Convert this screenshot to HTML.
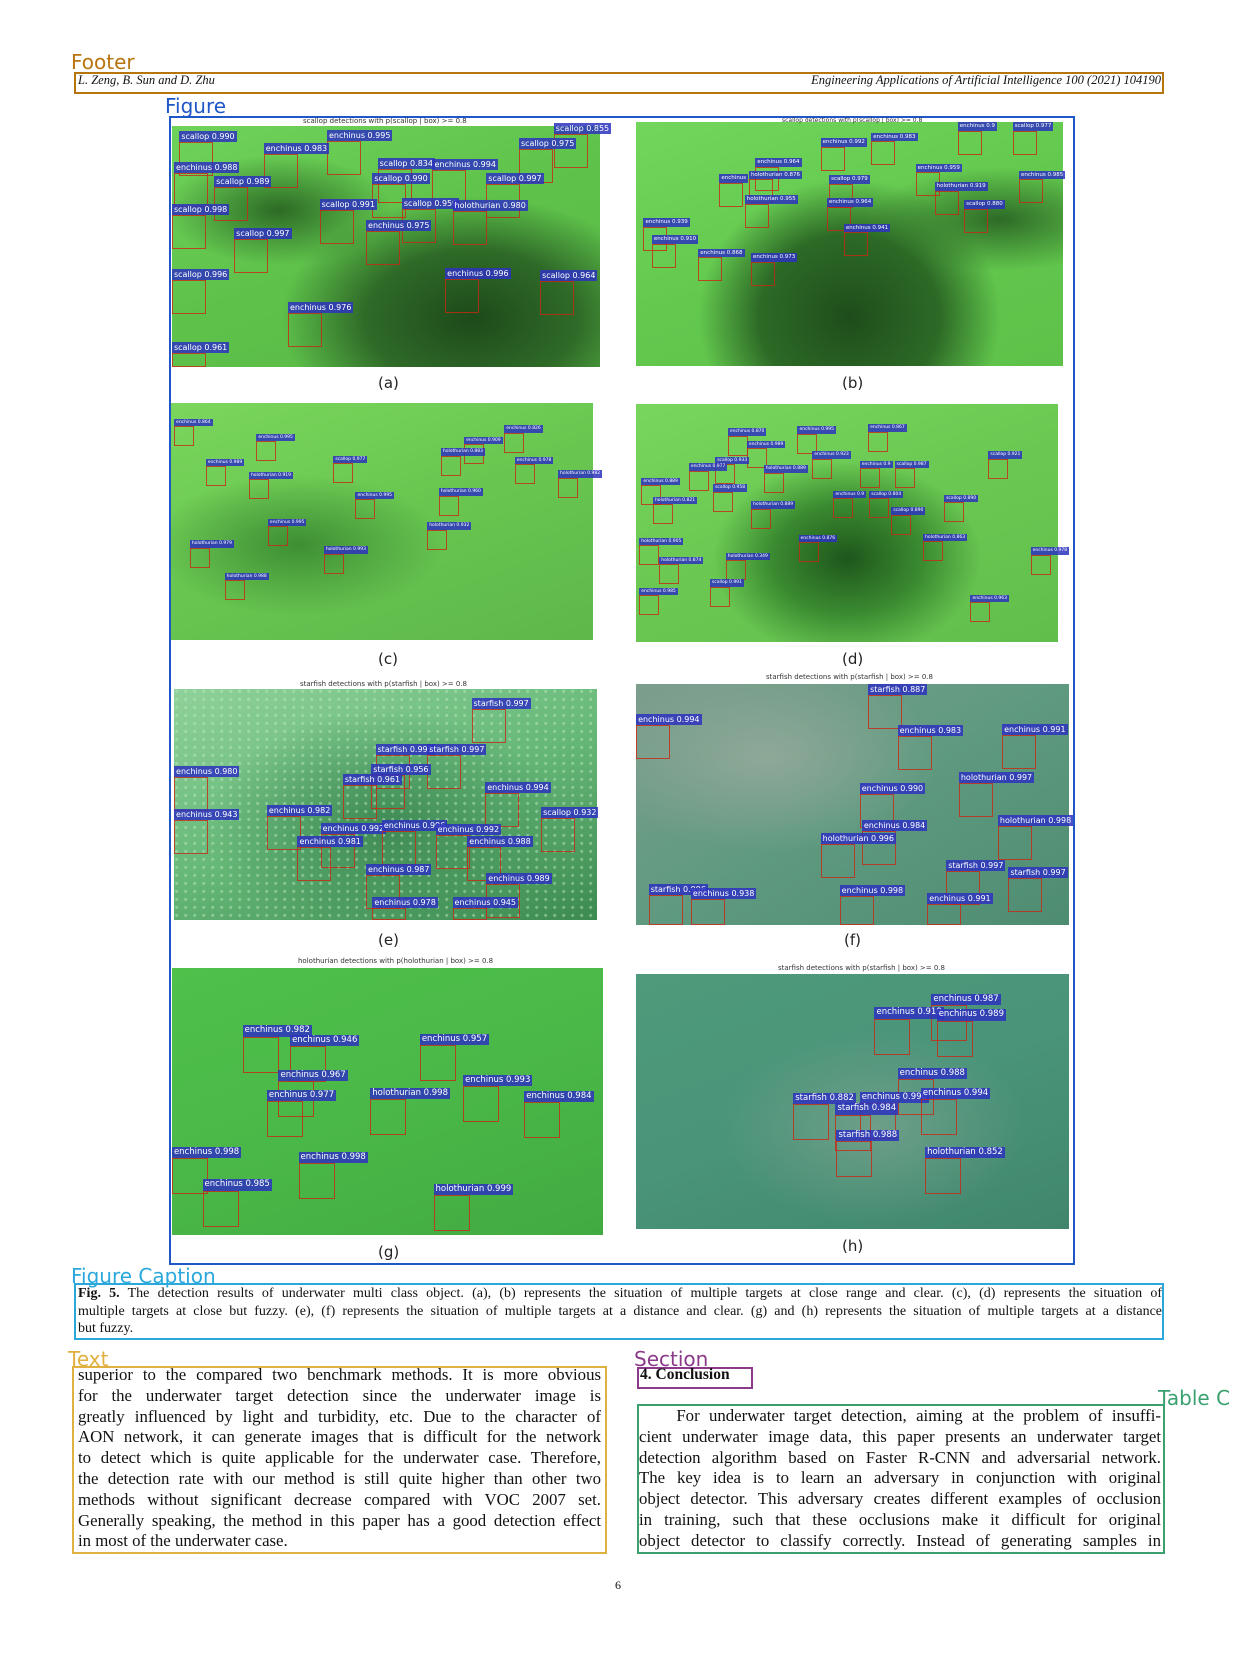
<!DOCTYPE html>
<html><head><meta charset="utf-8"><style>
body{margin:0;background:#fff;}
#page{position:relative;width:1241px;height:1654px;overflow:hidden;background:#fff;font-family:"Liberation Serif",serif;color:#111;}
.abs{position:absolute;}
.tag{position:absolute;font-family:"DejaVu Sans","Liberation Sans",sans-serif;font-size:20px;line-height:20px;}
.panel{position:absolute;overflow:hidden;}
.ptitle{position:absolute;font-family:"DejaVu Sans",sans-serif;font-size:7px;color:#333;white-space:nowrap;}
.plabel{position:absolute;font-family:"DejaVu Sans",sans-serif;font-size:15px;color:#222;}
.det{position:absolute;background:rgba(45,50,190,0.85);color:#fff;font-family:"DejaVu Sans",sans-serif;font-size:8px;line-height:11px;padding:0 2px;white-space:nowrap;}
.rbox{position:absolute;border:1px solid rgba(200,40,20,0.8);}
.txt{font-size:16.8px;line-height:20.8px;}
.txt div,.cap div{text-align:justify;text-align-last:justify;white-space:nowrap;}
.txt div.last,.cap div.last{text-align-last:left;}
.cap{font-size:14px;line-height:17.6px;}
</style></head><body>
<div id="page">

<div class="tag" style="left:71px;top:52px;color:#b8740e">Footer</div>
<div class="abs" style="left:74px;top:72px;width:1086px;height:18px;border:2px solid #b8740e"></div>
<div class="abs" style="left:78px;top:73px;font-size:12.5px;font-style:italic">L. Zeng, B. Sun and D. Zhu</div>
<div class="abs" style="right:80px;top:73px;font-size:12.5px;font-style:italic">Engineering Applications of Artificial Intelligence 100 (2021) 104190</div>

<div class="tag" style="left:165px;top:96px;color:#1f56c8">Figure</div>
<div class="abs" style="left:169px;top:116px;width:902px;height:1145px;border:2px solid #1f56c8"></div>

<div class="panel" style="left:172px;top:126px;width:428px;height:241px;background:radial-gradient(ellipse at 70% 80%,#1d4a1a 0%,#2f6a28 25%,transparent 45%),radial-gradient(ellipse at 25% 35%,#2c6a25 0%,transparent 25%),linear-gradient(160deg,#6fd25a,#5ec24a 50%,#58b846)"></div>
<div class="panel" style="left:636px;top:122px;width:427px;height:244px;background:radial-gradient(ellipse at 50% 80%,#1e4d1b 0%,#2d6a26 30%,transparent 50%),radial-gradient(ellipse at 85% 40%,#2d6a26 0%,transparent 25%),linear-gradient(160deg,#72d65c,#63c84e 50%,#5ec24a)"></div>
<div class="panel" style="left:171px;top:403px;width:422px;height:237px;background:radial-gradient(ellipse at 30% 60%,#3e8e34 0%,transparent 35%),linear-gradient(160deg,#7ad65c,#68c650 50%,#5eb84a)"></div>
<div class="panel" style="left:636px;top:404px;width:422px;height:238px;background:radial-gradient(ellipse at 50% 65%,#1e561c 0%,#3a8a30 25%,transparent 45%),linear-gradient(160deg,#78d65e,#6ac852 50%,#62be4c)"></div>
<div class="panel" style="left:174px;top:689px;width:423px;height:231px;background:radial-gradient(circle at 30% 30%,rgba(190,235,200,0.5) 0 1px,transparent 2px) 0 0/9px 8px,radial-gradient(ellipse at 50% 60%,#3f8a55 0%,transparent 60%),linear-gradient(160deg,#8fd19a,#66b878 50%,#3d8a50)"></div>
<div class="panel" style="left:636px;top:684px;width:433px;height:241px;background:radial-gradient(ellipse at 30% 30%,#8fa898 0%,transparent 40%),linear-gradient(150deg,#7c9e8c,#5f9a80 50%,#4e8c72)"></div>
<div class="panel" style="left:172px;top:968px;width:431px;height:267px;background:linear-gradient(160deg,#4fc04a,#4ab848 50%,#42aa42)"></div>
<div class="panel" style="left:636px;top:974px;width:433px;height:255px;background:radial-gradient(ellipse at 55% 60%,#6e9e88 0%,transparent 45%),linear-gradient(160deg,#4e9a7a,#4a947a 50%,#40866c)"></div>

<div class="ptitle" style="left:303px;top:117px">scallop detections with p(scallop | box) &gt;= 0.8</div>
<div class="ptitle" style="left:782px;top:117px;font-size:6px">scallop detections with p(scallop | box) &gt;= 0.8</div>
<div class="ptitle" style="left:300px;top:680px">starfish detections with p(starfish | box) &gt;= 0.8</div>
<div class="ptitle" style="left:766px;top:673px">starfish detections with p(starfish | box) &gt;= 0.8</div>
<div class="ptitle" style="left:298px;top:957px">holothurian detections with p(holothurian | box) &gt;= 0.8</div>
<div class="ptitle" style="left:778px;top:964px">starfish detections with p(starfish | box) &gt;= 0.8</div>

<div id="dets"></div>

<div class="plabel" style="left:378px;top:374px">(a)</div>
<div class="plabel" style="left:842px;top:374px">(b)</div>
<div class="plabel" style="left:378px;top:650px">(c)</div>
<div class="plabel" style="left:842px;top:650px">(d)</div>
<div class="plabel" style="left:378px;top:931px">(e)</div>
<div class="plabel" style="left:844px;top:931px">(f)</div>
<div class="plabel" style="left:378px;top:1243px">(g)</div>
<div class="plabel" style="left:842px;top:1237px">(h)</div>

<div class="tag" style="left:71px;top:1266px;color:#2aa8dc">Figure Caption</div>
<div class="abs" style="left:74px;top:1283px;width:1086px;height:53px;border:2px solid #2aa8dc"></div>
<div class="abs cap" style="left:78px;top:1285px;width:1084px">
<div><b>Fig. 5.</b> The detection results of underwater multi class object. (a), (b) represents the situation of multiple targets at close range and clear. (c), (d) represents the situation of</div>
<div>multiple targets at close but fuzzy. (e), (f) represents the situation of multiple targets at a distance and clear. (g) and (h) represents the situation of multiple targets at a distance</div>
<div class="last">but fuzzy.</div>
</div>

<div class="tag" style="left:68px;top:1349px;color:#e0b040">Text</div>
<div class="abs" style="left:72px;top:1366px;width:531px;height:184px;border:2px solid #e0b040"></div>
<div class="abs txt" style="left:78px;top:1365px;width:523px">
<div>superior to the compared two benchmark methods. It is more obvious</div>
<div>for the underwater target detection since the underwater image is</div>
<div>greatly influenced by light and turbidity, etc. Due to the character of</div>
<div>AON network, it can generate images that is difficult for the network</div>
<div>to detect which is quite applicable for the underwater case. Therefore,</div>
<div>the detection rate with our method is still quite higher than other two</div>
<div>methods without significant decrease compared with VOC 2007 set.</div>
<div>Generally speaking, the method in this paper has a good detection effect</div>
<div class="last">in most of the underwater case.</div>
</div>

<div class="tag" style="left:634px;top:1349px;color:#8a3a88">Section</div>
<div class="abs" style="left:637px;top:1367px;width:112px;height:18px;border:2px solid #8a3a88"></div>
<div class="abs" style="left:640px;top:1366px;font-size:15.5px;font-weight:bold">4. Conclusion</div>

<div class="tag" style="left:1158px;top:1388px;color:#3aa070">Table C</div>
<div class="abs" style="left:637px;top:1404px;width:524px;height:146px;border:2px solid #3aa070"></div>
<div class="abs txt" style="left:639px;top:1406px;width:522px">
<div>&nbsp;&nbsp;&nbsp;&nbsp;For underwater target detection, aiming at the problem of insuffi-</div>
<div>cient underwater image data, this paper presents an underwater target</div>
<div>detection algorithm based on Faster R-CNN and adversarial network.</div>
<div>The key idea is to learn an adversary in conjunction with original</div>
<div>object detector. This adversary creates different examples of occlusion</div>
<div>in training, such that these occlusions make it difficult for original</div>
<div>object detector to classify correctly. Instead of generating samples in</div>
</div>

<div class="abs" style="left:615px;top:1578px;font-size:12px">6</div>
</div>
<script>
const S=1/0.948;
const detA=[[170,124,'scallop 0.990'],[310,123,'enchinus 0.995'],[525,117,'scallop 0.855'],[250,136,'enchinus 0.983'],[492,131,'scallop 0.975'],[165,154,'enchinus 0.988'],[358,150,'scallop 0.834'],[410,151,'enchinus 0.994'],[203,167,'scallop 0.989'],[353,164,'scallop 0.990'],[461,164,'scallop 0.997'],[163,193,'scallop 0.998'],[303,189,'scallop 0.991'],[381,188,'scallop 0.959'],[429,190,'holothurian 0.980'],[347,209,'enchinus 0.975'],[222,216,'scallop 0.997'],[163,255,'scallop 0.996'],[422,254,'enchinus 0.996'],[512,256,'scallop 0.964'],[273,286,'enchinus 0.976'],[163,324,'scallop 0.961']];
const detB=[[778,131,'enchinus 0.992'],[826,126,'enchinus 0.983'],[716,150,'enchinus 0.964'],[682,165,'enchinus'],[710,162,'holothurian 0.876'],[786,166,'scallop 0.979'],[868,155,'enchinus 0.959'],[966,162,'enchinus 0.985'],[706,185,'holothurian 0.955'],[784,188,'enchinus 0.964'],[886,173,'holothurian 0.919'],[914,190,'scallop 0.880'],[610,207,'enchinus 0.939'],[800,212,'enchinus 0.941'],[618,223,'enchinus 0.910'],[662,236,'enchinus 0.868'],[712,240,'enchinus 0.973'],[908,116,'enchinus 0.9'],[960,116,'scallop 0.977']];
const detE=[[447,662,'starfish 0.997'],[356,705,'starfish 0.991'],[405,705,'starfish 0.997'],[165,726,'enchinus 0.980'],[352,724,'starfish 0.956'],[325,734,'starfish 0.961'],[460,741,'enchinus 0.994'],[165,767,'enchinus 0.943'],[253,763,'enchinus 0.982'],[513,765,'scallop 0.932'],[304,780,'enchinus 0.992'],[362,777,'enchinus 0.996'],[413,781,'enchinus 0.992'],[282,793,'enchinus 0.981'],[443,793,'enchinus 0.988'],[347,819,'enchinus 0.987'],[461,828,'enchinus 0.989'],[353,850,'enchinus 0.978'],[429,850,'enchinus 0.945']];
const detF=[[603,677,'enchinus 0.994'],[823,648,'starfish 0.887'],[851,687,'enchinus 0.983'],[950,686,'enchinus 0.991'],[909,732,'holothurian 0.997'],[815,742,'enchinus 0.990'],[946,773,'holothurian 0.998'],[817,777,'enchinus 0.984'],[778,790,'holothurian 0.996'],[897,815,'starfish 0.997'],[956,822,'starfish 0.997'],[615,838,'starfish 0.996'],[655,842,'enchinus 0.938'],[796,839,'enchinus 0.998'],[879,847,'enchinus 0.991']];
const detG=[[230,972,'enchinus 0.982'],[275,981,'enchinus 0.946'],[398,980,'enchinus 0.957'],[264,1014,'enchinus 0.967'],[439,1019,'enchinus 0.993'],[253,1033,'enchinus 0.977'],[351,1031,'holothurian 0.998'],[497,1034,'enchinus 0.984'],[163,1087,'enchinus 0.998'],[283,1092,'enchinus 0.998'],[192,1118,'enchinus 0.985'],[411,1122,'holothurian 0.999']];
const detH=[[883,942,'enchinus 0.987'],[829,955,'enchinus 0.919'],[888,957,'enchinus 0.989'],[851,1012,'enchinus 0.988'],[752,1036,'starfish 0.882'],[815,1035,'enchinus 0.990'],[873,1031,'enchinus 0.994'],[792,1046,'starfish 0.984'],[793,1071,'starfish 0.988'],[877,1087,'holothurian 0.852']];
const detC=[[165,397,'enchinus 0.864'],[243,411,'enchinus 0.995'],[440,414,'enchinus 0.909'],[478,403,'enchinus 0.826'],[195,435,'enchinus 0.989'],[316,432,'scallop 0.977'],[418,425,'holothurian 0.883'],[488,433,'enchinus 0.978'],[236,447,'holothurian 0.919'],[529,446,'holothurian 0.982'],[337,466,'enchinus 0.995'],[416,463,'holothurian 0.960'],[254,492,'enchinus 0.995'],[405,495,'holothurian 0.932'],[180,512,'holothurian 0.979'],[307,518,'holothurian 0.993'],[213,543,'holothurian 0.988']];
const detD=[[690,406,'enchinus 0.870'],[756,404,'enchinus 0.995'],[823,402,'enchinus 0.867'],[708,418,'enchinus 0.989'],[770,428,'enchinus 0.923'],[678,433,'scallop 0.933'],[653,439,'enchinus 0.977'],[724,441,'holothurian 0.889'],[815,437,'enchinus 0.9'],[848,437,'scallop 0.987'],[937,428,'scallop 0.921'],[608,453,'enchinus 0.889'],[676,459,'scallop 0.958'],[619,471,'holothurian 0.821'],[712,475,'holothurian 0.889'],[790,465,'enchinus 0.9'],[824,465,'scallop 0.804'],[895,469,'scallop 0.890'],[845,481,'scallop 0.890'],[606,510,'holothurian 0.905'],[757,507,'enchinus 0.876'],[875,506,'holothurian 0.863'],[977,519,'enchinus 0.978'],[625,528,'holothurian 0.874'],[688,524,'holothurian 0.349'],[673,549,'scallop 0.991'],[606,557,'enchinus 0.985'],[920,564,'enchinus 0.963']];
const host=document.getElementById('dets');
function add(list,fs,bottom){
  for(const d of list){
    const x=d[0]*S,y=d[1]*S;
    const r=document.createElement('div');
    
    
    r.className='rbox';
    const h=Math.min(fs*4,Math.max(4,bottom-(y+fs+3)));
    r.style.left=x+'px';r.style.top=(y+fs+3)+'px';r.style.width=(fs*4)+'px';r.style.height=h+'px';
    host.appendChild(r);
    const e=document.createElement('div');
    
    
    e.className='det';
    e.style.left=x+'px';e.style.top=y+'px';e.style.fontSize=fs+'px';e.style.lineHeight=(fs+3)+'px';
    e.textContent=d[2];
    host.appendChild(e);
  }
}
add(detA,8,365);add(detB,5.5,364);add(detC,4.5,638);add(detD,4.5,640);add(detE,8,918);add(detF,8,923);add(detG,8.5,1233);add(detH,8.5,1227);
</script>
</body></html>
